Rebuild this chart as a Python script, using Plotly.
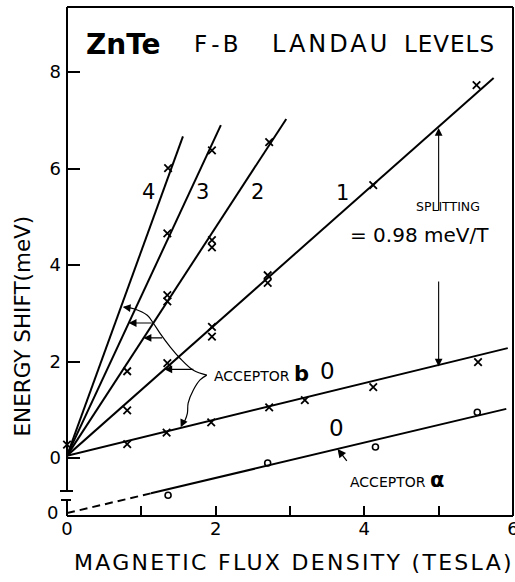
import plotly.graph_objects as go

# ---------------- data ----------------
# measured points, acceptor b Landau levels (crosses)
lvl0_x = [0.0, 0.81, 1.34, 1.94, 2.72, 3.20, 4.12, 5.53]
lvl0_y = [0.28, 0.29, 0.53, 0.74, 1.05, 1.20, 1.47, 1.99]
lvl1_x = [0.81, 1.35, 1.95, 1.95, 2.70, 2.70, 4.12, 5.51]
lvl1_y = [0.99, 1.97, 2.72, 2.52, 3.79, 3.63, 5.66, 7.73]
lvl2_x = [0.81, 1.35, 1.35, 1.95, 1.95, 2.72]
lvl2_y = [1.80, 3.38, 3.25, 4.52, 4.37, 6.55]
lvl3_x = [1.35, 1.95]
lvl3_y = [4.66, 6.38]
lvl4_x = [1.36]
lvl4_y = [6.01]

# fitted straight lines (start / end)
fit0_x, fit0_y = [0.0, 5.93], [0.05, 2.28]
fit1_x, fit1_y = [0.0, 5.74], [0.05, 7.88]
fit2_x, fit2_y = [0.0, 2.95], [0.05, 7.03]
fit3_x, fit3_y = [0.0, 2.07], [0.05, 6.90]
fit4_x, fit4_y = [0.0, 1.56], [0.05, 6.67]

# acceptor a (circles), energies relative to its own (offset) zero
acc_a_x = [1.36, 2.70, 4.15, 5.52]
acc_a_y = [0.37, 1.04, 1.37, 2.09]
acc_a_dash_x, acc_a_dash_y = [0.0, 1.13], [0.0, 0.41]
acc_a_fit_x, acc_a_fit_y = [1.13, 5.91], [0.41, 2.16]
acc_a_zero = -1.14  # position of acceptor a zero on the shared axis

x_ticks = [0, 1, 2, 3, 4, 5, 6]
x_ticktext = ["0", "", "2", "", "4", "", "6"]
y_ticks = [0, 2, 4, 6, 8]
y_ticktext = ["0", "2", "4", "6", "8"]

FONT = "DejaVu Sans"
BLK = "black"

fig = go.Figure()

def line(xs, ys, dash=None, width=2):
    fig.add_trace(go.Scatter(x=xs, y=ys, mode="lines",
                             line=dict(color=BLK, width=width, dash=dash),
                             hoverinfo="skip", showlegend=False))

for fx, fy in [(fit0_x, fit0_y), (fit1_x, fit1_y), (fit2_x, fit2_y),
               (fit3_x, fit3_y), (fit4_x, fit4_y)]:
    line(fx, fy)

line(acc_a_dash_x, [v + acc_a_zero for v in acc_a_dash_y], dash="8px,5px")
line(acc_a_fit_x, [v + acc_a_zero for v in acc_a_fit_y])

for mx, my in [(lvl0_x, lvl0_y), (lvl1_x, lvl1_y), (lvl2_x, lvl2_y),
               (lvl3_x, lvl3_y), (lvl4_x, lvl4_y)]:
    fig.add_trace(go.Scatter(x=mx, y=my, mode="markers",
                             marker=dict(symbol="x-thin", size=7.5,
                                         line=dict(width=1.8, color=BLK)),
                             hoverinfo="skip", showlegend=False, cliponaxis=False))

fig.add_trace(go.Scatter(x=acc_a_x, y=[v + acc_a_zero for v in acc_a_y], mode="markers",
                         marker=dict(symbol="circle-open", size=6, color=BLK,
                                     line=dict(width=1.6, color=BLK)),
                         hoverinfo="skip", showlegend=False))

# acceptor b pointer curves
curve_up_x = [1.88, 1.70, 1.52, 1.39, 1.25, 1.16, 1.08, 0.91, 0.77]
curve_up_y = [1.72, 1.82, 2.07, 2.30, 2.59, 2.80, 2.96, 3.09, 3.13]
curve_dn_x = [1.88, 1.79, 1.70, 1.63, 1.62, 1.59, 1.55]
curve_dn_y = [1.72, 1.62, 1.41, 1.14, 0.93, 0.79, 0.69]
for cx, cy in [(curve_up_x, curve_up_y), (curve_dn_x, curve_dn_y)]:
    fig.add_trace(go.Scatter(x=cx, y=cy, mode="lines", line=dict(color=BLK, width=1.2, shape="spline"),
                             hoverinfo="skip", showlegend=False))

def arrow(x, y, ax, ay, w=1.2, size=1.3):
    fig.add_annotation(x=x, y=y, ax=ax, ay=ay, xref="x", yref="y", axref="x", ayref="y",
                       text="", showarrow=True, arrowhead=2, arrowsize=size,
                       arrowwidth=w, arrowcolor=BLK, standoff=0, startstandoff=0)

arrow(0.75, 3.13, 0.86, 3.11)
arrow(0.83, 2.80, 1.16, 2.80)
arrow(1.03, 2.49, 1.30, 2.49)
arrow(1.31, 1.84, 1.72, 1.84)
arrow(1.53, 0.64, 1.56, 0.74)
# splitting double arrow
arrow(5.0, 6.84, 5.0, 5.10, w=1.1, size=1.4)
arrow(5.0, 1.90, 5.0, 3.69, w=1.1, size=1.4)
# acceptor a pointer
arrow(3.64, 0.19, 3.78, -0.09, w=1.3, size=1.3)

def text(x, y, s, size, bold=False, xanchor="center", spacing=None):
    if spacing:
        s = f"<span style='letter-spacing:{spacing}px'>{s}</span>"
    fig.add_annotation(x=x, y=y, xref="x", yref="y", text=f"<b>{s}</b>" if bold else s,
                       showarrow=False, xanchor=xanchor, yanchor="middle",
                       font=dict(family=FONT, size=size, color=BLK))

# title words
text(0.76, 8.58, "ZnTe", 28, bold=True)
text(2.04, 8.58, "F-B", 23, spacing=4)
text(3.55, 8.58, "LANDAU", 24, spacing=3)
text(5.15, 8.58, "LEVELS", 23, spacing=1)
# level numbers
text(1.09, 5.51, "4", 21)
text(1.82, 5.51, "3", 21)
text(2.56, 5.51, "2", 21)
text(3.70, 5.49, "1", 21)
text(3.50, 1.80, "0", 23)
text(3.63, 0.62, "0", 23)
text(5.12, 5.21, "SPLITTING", 12.5)
text(4.74, 4.62, "= 0.98 meV/T", 20)
text(1.95, 1.74, "ACCEPTOR <b><span style='font-size:21px'>b</span></b>", 14, xanchor="left")
text(3.78, -0.45, "ACCEPTOR <b><span style='font-size:21px'>α</span></b>", 14, xanchor="left")

# axis titles
fig.add_annotation(x=0.509, y=-0.092, xref="paper", yref="paper",
                   text="<span style='letter-spacing:2.3px'>MAGNETIC FLUX DENSITY (TESLA)</span>",
                   showarrow=False, xanchor="center", yanchor="middle",
                   font=dict(family=FONT, size=22, color=BLK))
fig.add_annotation(x=-0.099, y=0.374, xref="paper", yref="paper", text="ENERGY SHIFT(meV)",
                   showarrow=False, textangle=-90, xanchor="center", yanchor="middle",
                   font=dict(family=FONT, size=21.5, color=BLK))

# frame with axis break on the left
W, H = 446.0, 509.0
frame = [
    (0, 1, 1, 1), (1, 1, 1, 0), (0, 0, 1, 0),
    (0, 1, 0, 25 / H), (0, 16 / H, 0, 0),
    (-7 / W, 25 / H, 6 / W, 25 / H), (-6 / W, 16 / H, 4 / W, 16 / H),
]
for x0, y0, x1, y1 in frame:
    fig.add_shape(type="line", xref="paper", yref="paper", x0=x0, y0=y0, x1=x1, y1=y1,
                  line=dict(color=BLK, width=2))
fig.add_annotation(x=-0.016, y=acc_a_zero + 0.02, xref="paper", yref="y", text="0", showarrow=False,
                   xanchor="right", yanchor="middle", font=dict(family=FONT, size=18, color=BLK))

fig.update_layout(
    width=515, height=582, margin=dict(l=67, r=2, t=7, b=66, autoexpand=False),
    plot_bgcolor="white", paper_bgcolor="white",
    xaxis=dict(range=[0, 6.0005], showgrid=False, zeroline=False, showline=False, automargin=False,
               tickvals=x_ticks, ticktext=x_ticktext, ticks="inside", ticklen=10,
               ticklabeloverflow="allow",
               tickwidth=1.5, tickcolor=BLK, tickfont=dict(family=FONT, size=18, color=BLK)),
    yaxis=dict(range=[-1.2, 9.35], showgrid=False, zeroline=False, showline=False, automargin=False,
               tickvals=y_ticks, ticktext=y_ticktext, ticks="inside", ticklen=13,
               tickwidth=1.5, tickcolor=BLK, ticklabelstandoff=5,
               tickfont=dict(family=FONT, size=18, color=BLK)),
)

fig.write_html("out.html", config={"displayModeBar": False},
               post_script="document.body.style.margin='0';document.body.style.overflow='hidden';")
